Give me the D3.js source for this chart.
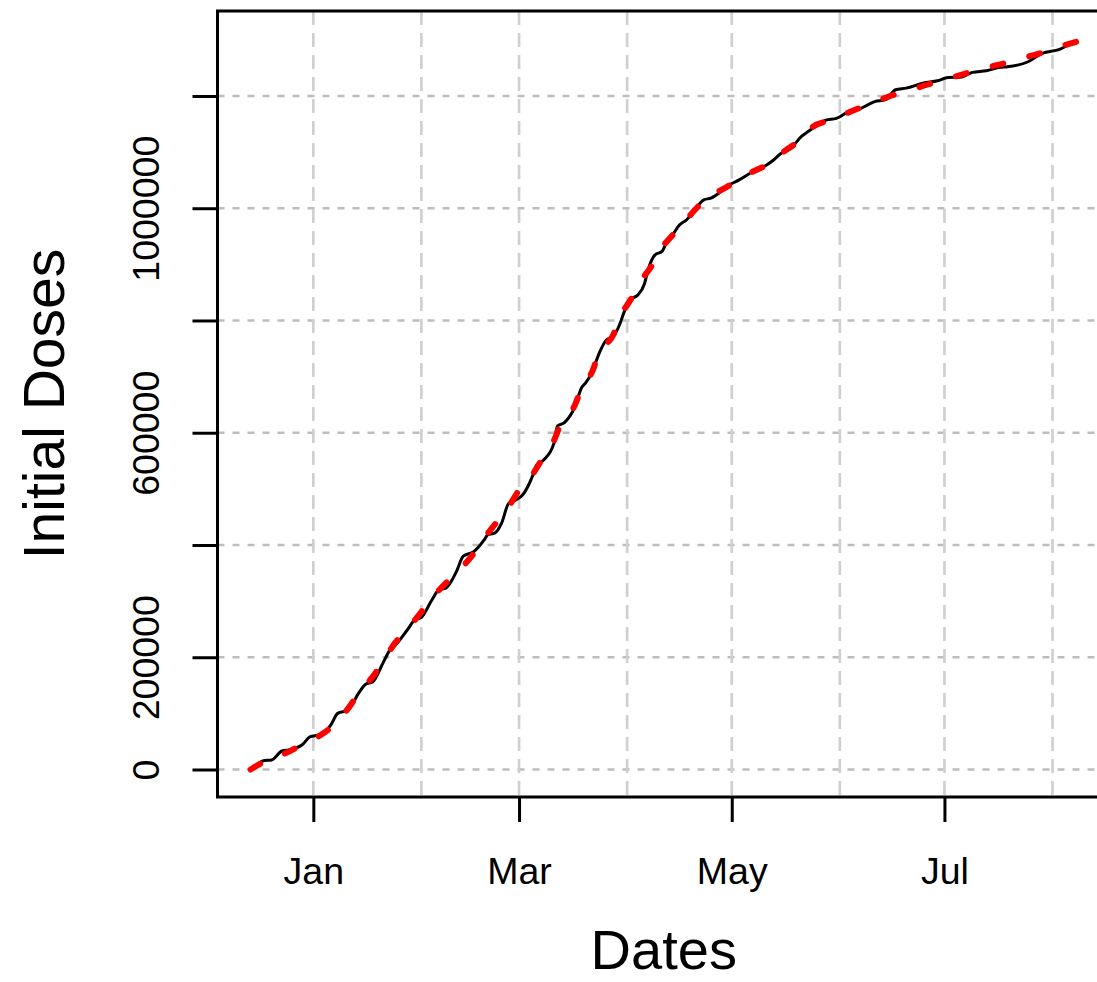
<!DOCTYPE html>
<html>
<head>
<meta charset="utf-8">
<script src="https://cdn.jsdelivr.net/npm/d3@7"></script>
<style>
  html, body { margin: 0; padding: 0; background: #ffffff; }
  svg { display: block; }
</style>
</head>
<body>
<svg id="chart" width="1097" height="982"></svg>
<script>
// ---- Data ----
const observedDates = [
  "2020-12-14","2020-12-18","2020-12-20","2020-12-23","2020-12-25","2020-12-29","2020-12-31",
  "2021-01-03","2021-01-06","2021-01-08","2021-01-11","2021-01-14","2021-01-16","2021-01-18",
  "2021-01-21","2021-01-23","2021-01-24","2021-01-28","2021-01-30","2021-02-01","2021-02-04",
  "2021-02-06","2021-02-08","2021-02-11","2021-02-13","2021-02-16","2021-02-19","2021-02-20",
  "2021-02-22","2021-02-24","2021-02-26","2021-02-28","2021-03-02","2021-03-05","2021-03-06",
  "2021-03-08","2021-03-11","2021-03-12","2021-03-14","2021-03-17","2021-03-19","2021-03-20",
  "2021-03-22","2021-03-24","2021-03-26","2021-03-28","2021-03-30","2021-03-31","2021-04-02",
  "2021-04-04","2021-04-06","2021-04-07","2021-04-09","2021-04-11","2021-04-12","2021-04-14",
  "2021-04-16","2021-04-18","2021-04-20","2021-04-23","2021-04-25","2021-04-28","2021-05-01",
  "2021-05-03","2021-05-07","2021-05-11","2021-05-13","2021-05-15","2021-05-18","2021-05-21",
  "2021-05-23","2021-05-28","2021-05-31","2021-06-04","2021-06-07","2021-06-11","2021-06-14",
  "2021-06-17","2021-06-20","2021-06-25","2021-06-29","2021-07-02","2021-07-06","2021-07-09",
  "2021-07-13","2021-07-17","2021-07-19","2021-07-25","2021-07-29","2021-08-03","2021-08-06",
  "2021-08-08"
];
const observedDoses = [
  0, 16000, 17000, 33000, 35000, 45000, 58000,
  62000, 79000, 100000, 106000, 136000, 152000, 156000,
  190000, 213000, 218000, 249000, 266000, 271000, 302000,
  320000, 323000, 352000, 380000, 388000, 409000, 418000,
  421000, 439000, 474000, 480000, 489000, 525000, 542000,
  551000, 581000, 612000, 618000, 646000, 681000, 688000,
  709000, 742000, 765000, 772000, 795000, 813000, 838000,
  845000, 866000, 890000, 917000, 923000, 935000, 952000,
  970000, 979000, 994000, 1015000, 1018000, 1030000, 1044000,
  1050000, 1065000, 1077000, 1086000, 1097000, 1107000, 1128000,
  1137000, 1157000, 1160000, 1174000, 1178000, 1190000, 1193000,
  1211000, 1214000, 1223000, 1227000, 1233000, 1234000, 1242000,
  1245000, 1251000, 1252000, 1261000, 1276000, 1283000, 1292000,
  1295000
];

const fittedDates = [
  "2020-12-14","2020-12-18","2020-12-24","2020-12-29","2021-01-03","2021-01-07","2021-01-11",
  "2021-01-14","2021-01-18","2021-01-21","2021-01-24","2021-01-28","2021-02-01","2021-02-04",
  "2021-02-08","2021-02-12","2021-02-16","2021-02-19","2021-02-23","2021-02-26","2021-03-01",
  "2021-03-05","2021-03-08","2021-03-11","2021-03-13","2021-03-17","2021-03-19","2021-03-22",
  "2021-03-24","2021-03-28","2021-03-30","2021-04-02","2021-04-05","2021-04-08","2021-04-11",
  "2021-04-14","2021-04-18","2021-04-22","2021-04-27","2021-05-01","2021-05-07","2021-05-11",
  "2021-05-16","2021-05-20","2021-05-24","2021-05-30","2021-06-04","2021-06-09","2021-06-15",
  "2021-06-20","2021-06-26","2021-07-01","2021-07-07","2021-07-12","2021-07-18","2021-07-23",
  "2021-07-29","2021-08-03","2021-08-08"
];
const fittedDoses = [
  0, 14000, 29000, 45000, 61000, 80000, 109000,
  136000, 165000, 192000, 222000, 250000, 281000, 305000,
  332000, 356000, 385000, 412000, 444000, 468000, 498000,
  527000, 557000, 586000, 616000, 649000, 681000, 709000,
  744000, 774000, 807000, 837000, 871000, 897000, 930000,
  952000, 980000, 1007000, 1029000, 1043000, 1065000, 1077000,
  1101000, 1119000, 1144000, 1158000, 1172000, 1184000, 1199000,
  1208000, 1220000, 1229000, 1240000, 1249000, 1258000, 1267000,
  1277000, 1288000, 1297000
];

const yLimits = [-49000, 1351400];
const yTicks = [0, 200000, 400000, 600000, 800000, 1000000, 1200000];
const yTickLabels = ["0", "200000", "", "600000", "", "1000000", ""];
const xTickDates = ["2021-01-01", "2021-03-01", "2021-05-01", "2021-07-01"];
const xTickLabels = ["Jan", "Mar", "May", "Jul"];
const gridMonths = ["2021-01-01","2021-02-01","2021-03-01","2021-04-01",
                    "2021-05-01","2021-06-01","2021-07-01","2021-08-01"];
const xTitle = "Dates";
const yTitle = "Initial Doses";

// ---- Layout ----
const parse = d3.timeParse("%Y-%m-%d");
const FONT = "'Liberation Sans', Arial, Helvetica, sans-serif";
const plot = { left: 217.5, right: 1110, top: 11, bottom: 797 };

const obs = observedDates.map((d, i) => ({ date: parse(d), value: observedDoses[i] }));
const fit = fittedDates.map((d, i) => ({ date: parse(d), value: fittedDoses[i] }));

const ext = d3.extent(obs, d => d.date);
const span = ext[1] - ext[0];
const x = d3.scaleTime()
  .domain([new Date(+ext[0] - 0.04 * span), new Date(+ext[1] + 0.04 * span)])
  .range([plot.left, plot.right]);
const y = d3.scaleLinear().domain(yLimits).range([plot.bottom, plot.top]);

const svg = d3.select("#chart");
svg.append("rect").attr("width", 1097).attr("height", 982).attr("fill", "#ffffff");

svg.append("defs").append("clipPath").attr("id", "plotclip")
  .append("rect").attr("x", plot.left).attr("y", plot.top)
  .attr("width", plot.right - plot.left).attr("height", plot.bottom - plot.top);

// Grid
const grid = svg.append("g").attr("clip-path", "url(#plotclip)");
grid.selectAll("line.h").data(yTicks).join("line").attr("class", "h")
  .attr("x1", plot.left).attr("x2", plot.right)
  .attr("y1", d => y(d)).attr("y2", d => y(d))
  .attr("stroke", "#bdbdbd").attr("stroke-width", 2.7)
  .attr("stroke-dasharray", "7,8");
grid.selectAll("line.v").data(gridMonths).join("line").attr("class", "v")
  .attr("x1", d => x(parse(d))).attr("x2", d => x(parse(d)))
  .attr("y1", plot.top).attr("y2", plot.bottom)
  .attr("stroke", "#d0d0d0").attr("stroke-width", 2.7)
  .attr("stroke-dasharray", "14,8");

// Lines
svg.append("path").datum(obs)
  .attr("d", d3.line().x(d => x(d.date)).y(d => y(d.value)).curve(d3.curveMonotoneX))
  .attr("fill", "none").attr("stroke", "#000000").attr("stroke-width", 3)
  .attr("stroke-linejoin", "round").attr("stroke-linecap", "round");
svg.append("path").datum(fit)
  .attr("d", d3.line().x(d => x(d.date)).y(d => y(d.value)).curve(d3.curveMonotoneX))
  .attr("fill", "none").attr("stroke", "#ff0000").attr("stroke-width", 6)
  .attr("stroke-dasharray", "11,27").attr("stroke-linecap", "round");

// Box
svg.append("rect").attr("x", plot.left).attr("y", plot.top)
  .attr("width", plot.right - plot.left).attr("height", plot.bottom - plot.top)
  .attr("fill", "none").attr("stroke", "#000000").attr("stroke-width", 3);

// X axis
const xAxis = d3.axisBottom(x)
  .tickValues(xTickDates.map(parse))
  .tickFormat((d, i) => xTickLabels[i])
  .tickSize(25).tickSizeOuter(0).tickPadding(35);
const gx = svg.append("g").attr("transform", `translate(0,${plot.bottom})`).call(xAxis);
gx.select(".domain").remove();
gx.selectAll(".tick line").attr("stroke", "#000").attr("stroke-width", 3);
gx.selectAll(".tick text").attr("font-family", FONT).attr("font-size", 37.5).attr("fill", "#000");

// Y axis
const yAxis = d3.axisLeft(y)
  .tickValues(yTicks)
  .tickFormat((d, i) => yTickLabels[i])
  .tickSize(25).tickSizeOuter(0);
const gy = svg.append("g").attr("transform", `translate(${plot.left},0)`).call(yAxis);
gy.select(".domain").remove();
gy.selectAll(".tick line").attr("stroke", "#000").attr("stroke-width", 3);
gy.selectAll(".tick text")
  .attr("font-family", FONT).attr("font-size", 37.5).attr("fill", "#000")
  .attr("text-anchor", "middle")
  .attr("x", 0).attr("y", -59).attr("dy", 0)
  .attr("transform", "rotate(-90)");

// Titles
svg.append("text").attr("x", (plot.left + plot.right) / 2).attr("y", 969)
  .attr("text-anchor", "middle").attr("font-family", FONT).attr("font-size", 56)
  .attr("fill", "#000").text(xTitle);
svg.append("text")
  .attr("transform", `translate(64,${(plot.top + plot.bottom) / 2}) rotate(-90)`)
  .attr("text-anchor", "middle").attr("font-family", FONT).attr("font-size", 57)
  .attr("fill", "#000").text(yTitle);
</script>
</body>
</html>
